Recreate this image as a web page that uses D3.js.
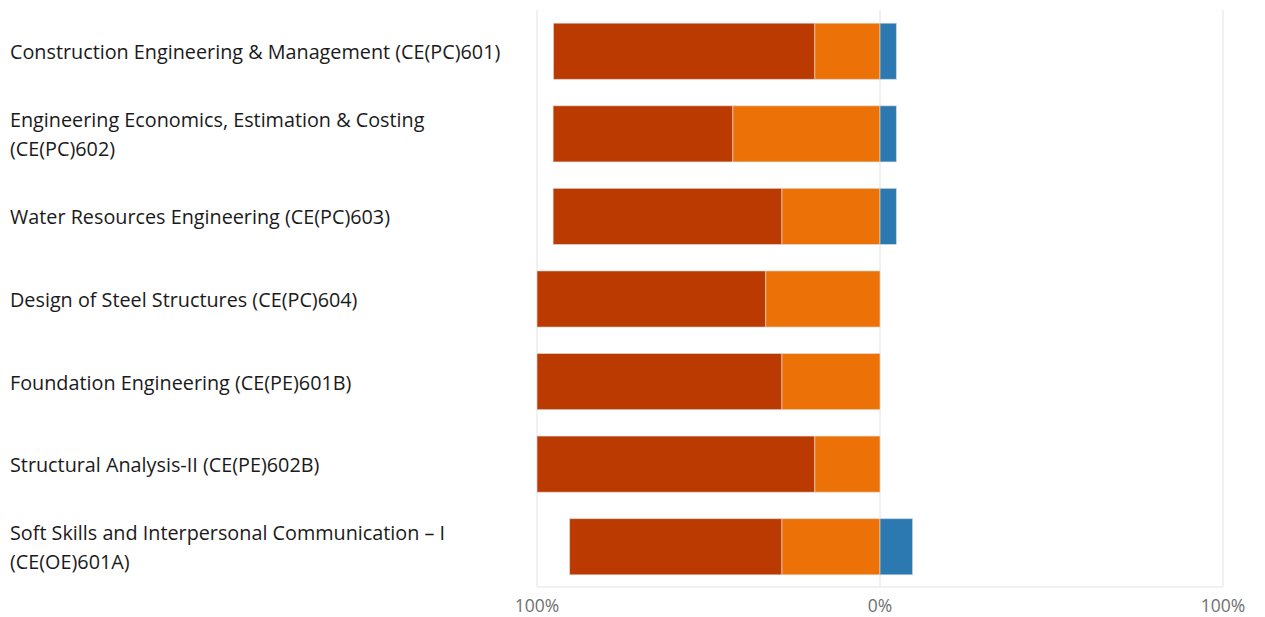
<!DOCTYPE html>
<html>
<head>
<meta charset="utf-8">
<script src="https://cdn.jsdelivr.net/npm/d3@7"></script>
<style>
  body { margin: 0; background: #fff; }
  svg { display: block; }
</style>
</head>
<body>
<svg id="chart"></svg>
<script>
// courses (one row each)
const categories = [
  "Construction Engineering & Management (CE(PC)601)",
  "Engineering Economics, Estimation & Costing (CE(PC)602)",
  "Water Resources Engineering (CE(PC)603)",
  "Design of Steel Structures (CE(PC)604)",
  "Foundation Engineering (CE(PE)601B)",
  "Structural Analysis-II (CE(PE)602B)",
  "Soft Skills and Interpersonal Communication \u2013 I (CE(OE)601A)"
];

// shares in %
const outerNeg = [76.2, 52.4, 66.7, 66.7, 71.4, 81.0, 61.9];  // dark red, far left
const innerNeg = [19.0, 42.9, 28.6, 33.3, 28.6, 19.0, 28.6];  // orange, next to 0
const positive = [4.8, 4.8, 4.8, 0, 0, 0, 9.5];               // blue, right of 0

const ticks = [-100, 0, 100];

const width = 1265, height = 617;
const colors = {outer: "#BA3A02", inner: "#EC7207", pos: "#2C79B1"};

const svg = d3.select("#chart")
  .attr("width", width)
  .attr("height", height);

const x = d3.scaleLinear().domain([-100, 100]).range([537, 1223]);
const y = d3.scaleBand().domain(categories).range([10, 588])
  .paddingInner(0.32).paddingOuter(0.16);

// grid
svg.append("g")
  .selectAll("line")
  .data(ticks)
  .join("line")
  .attr("x1", d => x(d)).attr("x2", d => x(d))
  .attr("y1", 10).attr("y2", 587)
  .attr("stroke", "#e3e3e3")
  .attr("stroke-width", 1);

svg.append("line")
  .attr("x1", x(-100)).attr("x2", x(100))
  .attr("y1", 587).attr("y2", 587)
  .attr("stroke", "#e3e3e3");

// build the stacked rows
const rows = categories.map((c, i) => ({
  cat: c,
  segs: [
    {x0: -(innerNeg[i] + outerNeg[i]), x1: -innerNeg[i], col: colors.outer},
    {x0: -innerNeg[i], x1: 0, col: colors.inner},
    {x0: 0, x1: positive[i], col: colors.pos}
  ].filter(s => s.x1 - s.x0 > 0)
}));

const bars = svg.append("g")
  .selectAll("g")
  .data(rows)
  .join("g")
  .attr("transform", d => `translate(0,${y(d.cat)})`);

bars.selectAll("rect")
  .data(d => d.segs)
  .join("rect")
  .attr("x", d => x(d.x0))
  .attr("width", d => x(d.x1) - x(d.x0))
  .attr("height", y.bandwidth())
  .attr("fill", d => d.col)
  .attr("stroke", "rgba(225,225,225,0.6)")
  .attr("stroke-width", 1);

// tick labels
svg.append("g")
  .selectAll("text")
  .data(ticks)
  .join("text")
  .attr("x", d => x(d))
  .attr("y", 612)
  .attr("text-anchor", "middle")
  .attr("font-family", "'Open Sans', sans-serif")
  .attr("font-size", 17.5)
  .attr("fill", "#707070")
  .text(d => Math.abs(d) + "%");

// category labels, wrapped
const maxW = 505, lineH = 29;
const labels = svg.append("g")
  .selectAll("text")
  .data(categories)
  .join("text")
  .attr("x", 10)
  .attr("font-family", "'Open Sans', sans-serif")
  .attr("font-size", 19.8)
  .attr("fill", "#1a1a1a");

labels.each(function(d) {
  const t = d3.select(this);
  const words = d.split(" ");
  let lines = [], cur = [];
  const probe = t.append("tspan");
  words.forEach(w => {
    cur.push(w);
    probe.text(cur.join(" "));
    if (probe.node().getComputedTextLength() > maxW && cur.length > 1) {
      cur.pop();
      lines.push(cur.join(" "));
      cur = [w];
    }
  });
  lines.push(cur.join(" "));
  probe.remove();
  const cy = y(d) + y.bandwidth() / 2 + 1;
  lines.forEach((ln, k) => {
    t.append("tspan")
      .attr("x", 10)
      .attr("y", cy + (k - (lines.length - 1) / 2) * lineH)
      .attr("dy", "0.35em")
      .text(ln);
  });
});
</script>
</body>
</html>
